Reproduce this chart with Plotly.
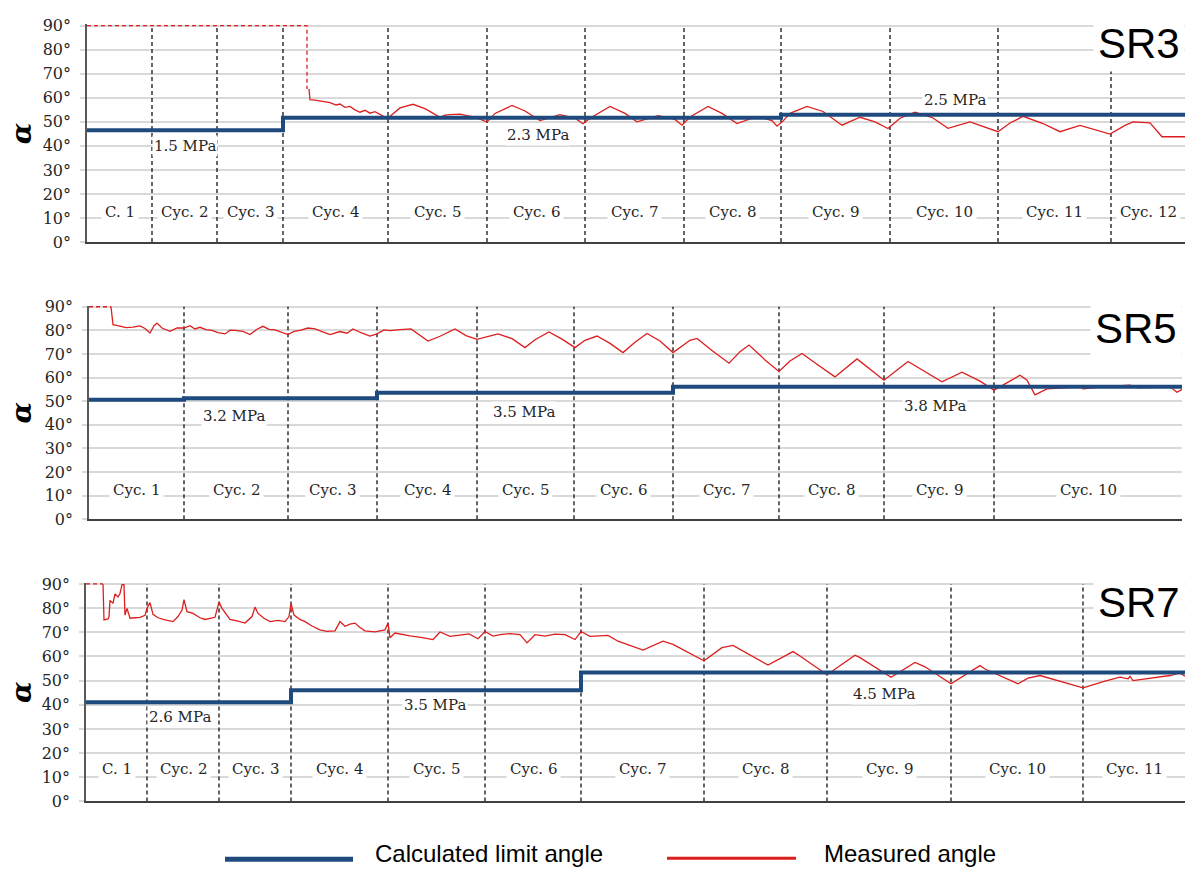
import plotly.graph_objects as go

W, H = 1193, 878

# ---------------- SR3 ----------------
sr3_cycle_bounds = [65, 130, 196, 301, 400, 498, 597, 694, 803, 911, 1024]
sr3_t_end = 1098
sr3_cycle_names = ["C. 1", "Cyc. 2", "Cyc. 3", "Cyc. 4", "Cyc. 5", "Cyc. 6",
                   "Cyc. 7", "Cyc. 8", "Cyc. 9", "Cyc. 10", "Cyc. 11", "Cyc. 12"]
sr3_limit_t = [0, 196, 694, 1098]
sr3_limit = [46.5, 51.7, 53.0]
sr3_pressures = ["1.5 MPa", "2.3 MPa", "2.5 MPa"]
# sensor out of range (shown dashed at 90°)
sr3_over_t = [0, 220, 220]
sr3_over = [90, 90, 63.7]
sr3_t = [222, 223, 228, 233, 238, 243, 249, 253, 258, 263, 268, 273, 278, 283, 288, 293, 298, 301,
         306, 313, 326, 338, 353, 358, 363, 373, 380, 388, 400, 408, 425, 438, 453, 473, 480, 488,
         496, 503, 523, 538, 550, 571, 588, 595, 603, 621, 635, 650, 670, 685, 690,
         696, 703, 720, 736, 755, 773, 788, 801, 813, 828, 846, 861, 883, 911, 923,
         936, 956, 973, 993, 1023, 1038, 1046, 1063, 1075, 1098]
sr3_alpha = [63.7, 59.2, 59.0, 58.6, 58.2, 58.0, 57.0, 57.4, 56.0, 56.4, 55.0, 54.0, 54.8, 53.6, 54.2, 53.0, 52.0, 51.6,
             53.5, 55.8, 57.3, 55.5, 51.9, 52.8, 53.0, 53.2, 52.6, 52.0, 49.9, 53.5, 56.8, 54.5, 50.5, 53.0, 52.3, 51.5,
             49.2, 51.5, 56.4, 53.5, 50.0, 52.6, 51.0, 48.6, 52.0, 56.4, 53.5, 49.3, 52.3, 50.5, 48.2,
             50.3, 53.5, 56.4, 54.3, 48.6, 51.9, 50.0, 47.2, 51.5, 54.0, 51.6, 47.3, 50.0, 45.9, 49.5,
             52.3, 49.3, 45.9, 48.5, 44.9, 48.5, 50.0, 49.6, 43.8, 43.8]

# ---------------- SR5 ----------------
sr5_cycle_bounds = [95, 199, 288, 388, 485, 584, 690, 795, 905]
sr5_t_end = 1093
sr5_cycle_names = ["Cyc. 1", "Cyc. 2", "Cyc. 3", "Cyc. 4", "Cyc. 5",
                   "Cyc. 6", "Cyc. 7", "Cyc. 8", "Cyc. 9", "Cyc. 10"]
sr5_limit_t = [0, 95, 288, 584, 1093]
sr5_limit = [50.6, 51.3, 53.6, 56.1]
sr5_pressures = ["3.2 MPa", "3.5 MPa", "3.8 MPa"]
sr5_over_t = [0, 22]
sr5_over = [90, 90]
sr5_t = [22, 24, 31, 37, 44, 51, 56, 61, 65, 68, 73, 81, 88, 95, 101, 106, 111, 117, 123, 129, 136, 141, 146,
         154, 161, 168, 174, 180, 186, 193, 199, 205, 211, 219, 226, 233, 241, 251, 258, 264, 272, 281, 288, 295, 301, 311,
         322, 339, 351, 366, 377, 388, 409, 423, 436, 446, 460, 473, 486, 496, 508,
         521, 534, 546, 558, 571, 584, 601, 608, 623, 640, 651, 660, 676, 690, 701,
         713, 729, 746, 768, 781, 795, 819, 836, 853, 873, 891, 905, 931, 938, 946,
         958, 991, 994, 1016, 1041, 1049, 1081, 1088, 1093]
sr5_alpha = [90.0, 82.4, 81.8, 81.2, 81.4, 81.9, 80.8, 78.9, 82.0, 83.1, 81.0, 79.6, 81.0, 81.0, 82.0, 80.6, 81.3, 80.3, 80.0, 79.0, 78.5, 80.1, 80.0,
             79.6, 78.2, 80.5, 81.7, 80.4, 80.2, 79.0, 78.2, 79.6, 80.0, 81.0, 80.6, 79.5, 78.2, 79.5, 78.8, 80.6, 79.0, 77.6, 78.5, 80.2, 79.9, 80.3,
             80.6, 75.5, 77.5, 80.6, 77.8, 76.2, 78.5, 76.5, 72.7, 76.0, 79.3, 76.3, 72.7, 75.8, 77.6,
             74.5, 70.6, 75.0, 78.7, 75.5, 70.6, 75.8, 76.6, 71.5, 66.1, 71.0, 73.8, 67.5, 62.6, 67.0,
             70.2, 65.3, 60.3, 67.9, 63.5, 58.9, 66.8, 62.5, 58.2, 62.3, 58.5, 54.7, 61.0, 58.9, 52.7,
             55.2, 56.1, 55.2, 56.2, 56.8, 55.7, 56.1, 53.8, 55.0]

# ---------------- SR7 ----------------
sr7_cycle_bounds = [61, 133, 205, 302, 399, 495, 618, 741, 865, 997]
sr7_t_end = 1099
sr7_cycle_names = ["C. 1", "Cyc. 2", "Cyc. 3", "Cyc. 4", "Cyc. 5", "Cyc. 6",
                   "Cyc. 7", "Cyc. 8", "Cyc. 9", "Cyc. 10", "Cyc. 11"]
sr7_limit_t = [0, 205, 495, 1099]
sr7_limit = [41.0, 46.0, 53.3]
sr7_pressures = ["2.6 MPa", "3.5 MPa", "4.5 MPa"]
sr7_over_t = [0, 17]
sr7_over = [90, 90]
sr7_t = [17, 18, 22, 23, 24, 27, 29, 32, 34, 36, 38, 39, 41, 44, 49, 54, 59, 61, 64, 67,
         72, 79, 87, 92, 96, 98, 101, 107, 114, 119, 129, 133, 136, 144, 152, 159, 166, 169,
         172, 178, 184, 192, 199, 203, 205, 208, 214, 219, 226, 234, 241, 249, 254, 259, 264, 269, 274, 279, 289, 299, 302, 304,
         309, 316, 324, 335, 347, 354, 364, 374, 383, 392, 399, 407, 414, 424, 434, 441, 449, 459, 469, 479, 489, 495, 504, 522,
         532, 557, 577, 587, 618, 636, 647, 682, 707, 714, 741, 769, 774, 805, 829, 839,
         865, 894, 899, 932, 942, 954, 997, 1019, 1034, 1042, 1044, 1047, 1084, 1094, 1099]
sr7_alpha = [90.0, 75.1, 75.5, 76.5, 83.2, 82.0, 85.9, 84.6, 86.0, 89.7, 89.7, 77.1, 79.9, 75.8, 76.0, 76.2, 77.0, 79.9, 82.3, 77.4,
             76.0, 75.1, 74.4, 76.5, 79.2, 83.5, 78.5, 77.8, 76.0, 75.3, 76.2, 82.5, 79.9, 75.3, 74.6, 73.8, 76.5, 80.4,
             77.8, 75.8, 74.4, 74.9, 74.4, 76.5, 81.9, 77.1, 75.3, 74.4, 72.6, 71.0, 70.4, 70.6, 74.4, 72.5, 73.4, 73.8, 72.0, 70.6, 70.2, 71.0, 73.8, 67.7,
             69.7, 69.1, 68.5, 67.9, 67.0, 70.1, 68.3, 68.8, 69.3, 67.3, 70.3, 68.4, 69.0, 69.4, 69.0, 65.6, 69.0, 68.4, 69.2, 69.0, 67.0, 70.3, 68.3, 68.7,
             66.3, 62.6, 66.3, 65.0, 58.2, 63.6, 64.6, 56.4, 62.0, 60.2, 52.4, 60.5, 59.5, 51.4, 57.5, 55.7,
             48.7, 56.2, 54.8, 48.7, 51.0, 52.1, 47.0, 49.8, 51.4, 50.7, 51.8, 50.0, 52.1, 53.2, 51.8]

# ---------------- styling / layout ----------------
BLUE = "#1f4a7e"
RED = "#dc1e1e"
GRID = "#d9d9d9"
SERIF = "DejaVu Serif"
SANS = "Liberation Sans"
DASH = "4px,3px"

panels = [
    dict(tag="SR3", cb=sr3_cycle_bounds, end=sr3_t_end, names=sr3_cycle_names,
         lt=sr3_limit_t, lv=sr3_limit, mpa=sr3_pressures,
         ot=sr3_over_t, ov=sr3_over, t=sr3_t, a=sr3_alpha,
         px=(87, 1185), py=(18, 239), cyc_y=12.5, tag_y=82.5,
         mpa_at=[(98, 40.0), (451, 44.6), (868, 59.0)]),
    dict(tag="SR5", cb=sr5_cycle_bounds, end=sr5_t_end, names=sr5_cycle_names,
         lt=sr5_limit_t, lv=sr5_limit, mpa=sr5_pressures,
         ot=sr5_over_t, ov=sr5_over, t=sr5_t, a=sr5_alpha,
         px=(89, 1182), py=(305, 522), cyc_y=12.6, tag_y=81.0,
         mpa_at=[(145, 43.7), (435, 45.3), (846, 48.1)]),
    dict(tag="SR7", cb=sr7_cycle_bounds, end=sr7_t_end, names=sr7_cycle_names,
         lt=sr7_limit_t, lv=sr7_limit, mpa=sr7_pressures,
         ot=sr7_over_t, ov=sr7_over, t=sr7_t, a=sr7_alpha,
         px=(86, 1185), py=(588, 810), cyc_y=13.3, tag_y=82.5,
         mpa_at=[(94, 34.8), (349, 39.9), (798, 44.3)]),
]

YTOP = 90.5  # a little headroom so the 90° line is not clipped
TICKS = list(range(0, 91, 10))

fig = go.Figure()
shapes = []
annotations = []
layout_axes = {}

for i, p in enumerate(panels):
    sfx = "" if i == 0 else str(i + 1)
    xa, ya = "x" + sfx, "y" + sfx
    ppd = (p["py"][1] - p["py"][0]) / 90.0
    top_px = p["py"][0] - (YTOP - 90) * ppd
    xdom = [p["px"][0] / W, p["px"][1] / W]
    ydom = [1 - p["py"][1] / H, 1 - top_px / H]

    layout_axes["xaxis" + sfx] = dict(
        domain=xdom, range=[0, p["end"]], anchor=ya,
        showgrid=False, zeroline=False, showticklabels=False, ticks="",
        showline=True, linecolor="#404040", linewidth=2,
    )
    layout_axes["yaxis" + sfx] = dict(
        domain=ydom, range=[0, YTOP], anchor=xa,
        tickmode="array", tickvals=TICKS, ticktext=[f"{v}°" for v in TICKS],
        showgrid=True, gridcolor=GRID, gridwidth=1.5, zeroline=False,
        ticks="outside", ticklen=5, tickcolor=GRID, tickwidth=1.5,
        ticklabelstandoff=6,
        showline=True, linecolor="#595959", linewidth=1.5,
        tickfont=dict(family=SERIF, size=16, color="#262626"),
    )

    # measured angle, out-of-range part dashed
    fig.add_trace(go.Scatter(x=p["ot"], y=p["ov"], xaxis=xa, yaxis=ya, mode="lines",
                             line=dict(color=RED, width=1.3, dash=DASH),
                             showlegend=False, hoverinfo="skip"))
    fig.add_trace(go.Scatter(x=p["t"], y=p["a"], xaxis=xa, yaxis=ya, mode="lines",
                             line=dict(color=RED, width=1.3),
                             name="Measured angle", showlegend=False))
    # calculated limit angle (step per pressure level)
    fig.add_trace(go.Scatter(x=p["lt"], y=p["lv"] + [p["lv"][-1]], xaxis=xa, yaxis=ya,
                             mode="lines", line=dict(color=BLUE, width=4, shape="hv"),
                             name="Calculated limit angle", showlegend=False))

    # cycle boundaries
    for c in p["cb"]:
        shapes.append(dict(type="line", xref=xa, yref=ya, x0=c, x1=c, y0=0, y1=90,
                           line=dict(color="#111111", width=1.3, dash=DASH), layer="between"))
    # cycle labels centred in each cycle
    edges = [0] + p["cb"] + [p["end"]]
    for k, name in enumerate(p["names"]):
        annotations.append(dict(x=(edges[k] + edges[k + 1]) / 2, y=p["cyc_y"], xref=xa, yref=ya,
                                text=name, showarrow=False, bgcolor="white", borderpad=3,
                                font=dict(family=SERIF, size=15, color="#262626")))
    # pressure labels
    for txt, (mx, my) in zip(p["mpa"], p["mpa_at"]):
        annotations.append(dict(x=mx, y=my, xref=xa, yref=ya, text=txt, showarrow=False,
                                bgcolor="white", borderpad=1,
                                font=dict(family=SERIF, size=15, color="#262626")))
    # specimen tag
    annotations.append(dict(x=1, y=p["tag_y"], xref=xa + " domain", yref=ya, text=p["tag"],
                            xanchor="right", showarrow=False, bgcolor="white", borderpad=4,
                            font=dict(family=SANS, size=42, color="black")))
    # axis title
    annotations.append(dict(x=21 / W, y=0.5, xref="paper", yref=ya + " domain", text="α",
                            xanchor="center", yanchor="middle",
                            textangle=-90, showarrow=False,
                            font=dict(family=SERIF, size=28, color="black",
                                      weight="bold", style="italic")))

# legend drawn along the bottom
shapes.append(dict(type="line", xref="paper", yref="paper", x0=225 / W, x1=353 / W,
                   y0=1 - 869 / H, y1=1 - 869 / H, line=dict(color=BLUE, width=5)))
shapes.append(dict(type="line", xref="paper", yref="paper", x0=667 / W, x1=796 / W,
                   y0=1 - 868 / H, y1=1 - 868 / H, line=dict(color=RED, width=3)))
annotations.append(dict(x=373 / W, y=1 - 863 / H, xref="paper", yref="paper",
                        text="Calculated limit angle", xanchor="left", yanchor="middle",
                        showarrow=False, font=dict(family=SANS, size=24, color="black")))
annotations.append(dict(x=822 / W, y=1 - 863 / H, xref="paper", yref="paper",
                        text="Measured angle", xanchor="left", yanchor="middle",
                        showarrow=False, font=dict(family=SANS, size=24, color="black")))

fig.update_layout(
    width=W, height=H,
    margin=dict(l=0, r=0, t=0, b=0),
    paper_bgcolor="white", plot_bgcolor="white",
    showlegend=False,
    shapes=shapes, annotations=annotations,
    **layout_axes,
)

fig.write_html("out.html")
